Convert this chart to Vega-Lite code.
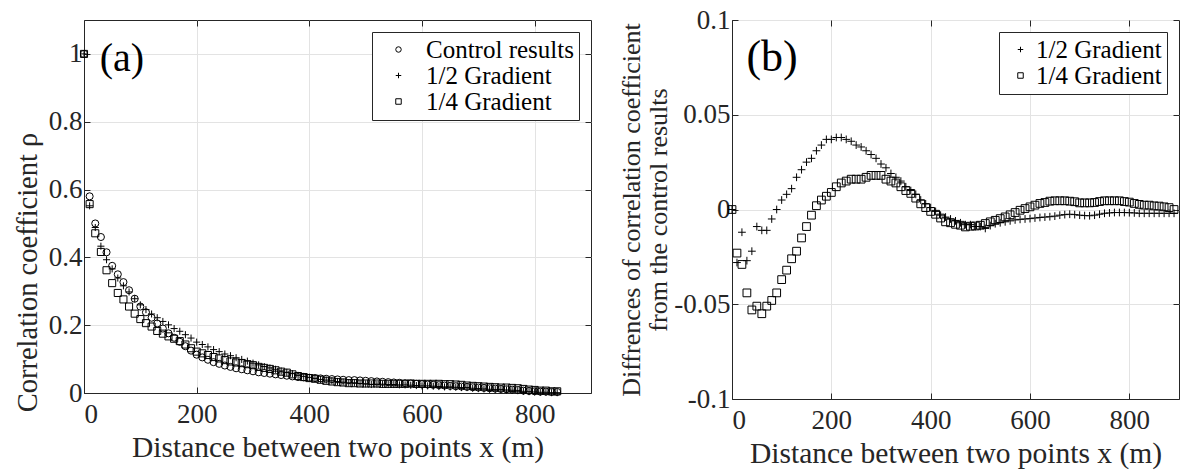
{
"$schema": "https://vega.github.io/schema/vega-lite/v6.json",
"padding": {"left": 12, "top": 5, "right": 0, "bottom": 5},
"spacing": 26,
"background": "white",
"config": {
  "view": {"stroke": "#262626", "strokeWidth": 1},
  "font": "Liberation Serif",
  "axis": {"labelFont": "Liberation Serif", "titleFont": "Liberation Serif", "labelFontSize": 27, "titleFontSize": 29.5, "titleFontWeight": "normal", "labelColor": "#262626", "titleColor": "#262626", "domainColor": "#262626", "tickColor": "#262626", "gridColor": "#e3e3e3", "tickSize": -6, "labelPadding": 8, "titlePadding": 6},
  "axisX": {"labelPadding": 14},
  "legend": {"title": null, "fillColor": "white", "strokeColor": "#262626", "padding": 5, "labelFont": "Liberation Serif", "labelFontSize": 25, "labelColor": "black", "symbolSize": 30, "symbolStrokeColor": "black", "symbolStrokeWidth": 1, "symbolOffset": 9, "labelOffset": 15, "rowPadding": -4, "cornerRadius": 0, "orient": "top-right", "offset": 12}
},
"datasets": {
"a": [
{"x":0,"g":"C","r":1},{"x":0,"g":"H","r":1},{"x":0,"g":"Q","r":1},
{"x":10,"g":"C","r":0.58},{"x":10,"g":"H","r":0.552},{"x":10,"g":"Q","r":0.557},
{"x":20,"g":"C","r":0.5},{"x":20,"g":"H","r":0.488},{"x":20,"g":"Q","r":0.471},
{"x":30,"g":"C","r":0.46},{"x":30,"g":"H","r":0.433},{"x":30,"g":"Q","r":0.416},
{"x":40,"g":"C","r":0.415},{"x":40,"g":"H","r":0.393},{"x":40,"g":"Q","r":0.362},
{"x":50,"g":"C","r":0.375},{"x":50,"g":"H","r":0.366},{"x":50,"g":"Q","r":0.324},
{"x":60,"g":"C","r":0.35},{"x":60,"g":"H","r":0.339},{"x":60,"g":"Q","r":0.295},
{"x":70,"g":"C","r":0.327},{"x":70,"g":"H","r":0.316},{"x":70,"g":"Q","r":0.276},
{"x":80,"g":"C","r":0.303},{"x":80,"g":"H","r":0.298},{"x":80,"g":"Q","r":0.255},
{"x":90,"g":"C","r":0.278},{"x":90,"g":"H","r":0.278},{"x":90,"g":"Q","r":0.234},
{"x":100,"g":"C","r":0.255},{"x":100,"g":"H","r":0.26},{"x":100,"g":"Q","r":0.218},
{"x":110,"g":"C","r":0.238},{"x":110,"g":"H","r":0.246},{"x":110,"g":"Q","r":0.206},
{"x":120,"g":"C","r":0.222},{"x":120,"g":"H","r":0.233},{"x":120,"g":"Q","r":0.196},
{"x":130,"g":"C","r":0.205},{"x":130,"g":"H","r":0.222},{"x":130,"g":"Q","r":0.183},
{"x":140,"g":"C","r":0.19},{"x":140,"g":"H","r":0.211},{"x":140,"g":"Q","r":0.175},
{"x":150,"g":"C","r":0.176},{"x":150,"g":"H","r":0.201},{"x":150,"g":"Q","r":0.167},
{"x":160,"g":"C","r":0.163},{"x":160,"g":"H","r":0.19},{"x":160,"g":"Q","r":0.16},
{"x":170,"g":"C","r":0.151},{"x":170,"g":"H","r":0.182},{"x":170,"g":"Q","r":0.153},
{"x":180,"g":"C","r":0.138},{"x":180,"g":"H","r":0.172},{"x":180,"g":"Q","r":0.143},
{"x":190,"g":"C","r":0.125},{"x":190,"g":"H","r":0.162},{"x":190,"g":"Q","r":0.132},
{"x":200,"g":"C","r":0.113},{"x":200,"g":"H","r":0.15},{"x":200,"g":"Q","r":0.122},
{"x":210,"g":"C","r":0.105},{"x":210,"g":"H","r":0.143},{"x":210,"g":"Q","r":0.117},
{"x":220,"g":"C","r":0.098},{"x":220,"g":"H","r":0.136},{"x":220,"g":"Q","r":0.112},
{"x":230,"g":"C","r":0.091},{"x":230,"g":"H","r":0.128},{"x":230,"g":"Q","r":0.106},
{"x":240,"g":"C","r":0.086},{"x":240,"g":"H","r":0.122},{"x":240,"g":"Q","r":0.102},
{"x":250,"g":"C","r":0.081},{"x":250,"g":"H","r":0.115},{"x":250,"g":"Q","r":0.097},
{"x":260,"g":"C","r":0.077},{"x":260,"g":"H","r":0.11},{"x":260,"g":"Q","r":0.093},
{"x":270,"g":"C","r":0.073},{"x":270,"g":"H","r":0.104},{"x":270,"g":"Q","r":0.09},
{"x":280,"g":"C","r":0.07},{"x":280,"g":"H","r":0.099},{"x":280,"g":"Q","r":0.088},
{"x":290,"g":"C","r":0.067},{"x":290,"g":"H","r":0.094},{"x":290,"g":"Q","r":0.085},
{"x":300,"g":"C","r":0.064},{"x":300,"g":"H","r":0.088},{"x":300,"g":"Q","r":0.082},
{"x":310,"g":"C","r":0.061},{"x":310,"g":"H","r":0.083},{"x":310,"g":"Q","r":0.077},
{"x":320,"g":"C","r":0.059},{"x":320,"g":"H","r":0.078},{"x":320,"g":"Q","r":0.074},
{"x":330,"g":"C","r":0.057},{"x":330,"g":"H","r":0.074},{"x":330,"g":"Q","r":0.071},
{"x":340,"g":"C","r":0.055},{"x":340,"g":"H","r":0.07},{"x":340,"g":"Q","r":0.067},
{"x":350,"g":"C","r":0.053},{"x":350,"g":"H","r":0.065},{"x":350,"g":"Q","r":0.063},
{"x":360,"g":"C","r":0.051},{"x":360,"g":"H","r":0.061},{"x":360,"g":"Q","r":0.06},
{"x":370,"g":"C","r":0.049},{"x":370,"g":"H","r":0.057},{"x":370,"g":"Q","r":0.055},
{"x":380,"g":"C","r":0.047},{"x":380,"g":"H","r":0.052},{"x":380,"g":"Q","r":0.05},
{"x":390,"g":"C","r":0.046},{"x":390,"g":"H","r":0.049},{"x":390,"g":"Q","r":0.047},
{"x":400,"g":"C","r":0.045},{"x":400,"g":"H","r":0.046},{"x":400,"g":"Q","r":0.044},
{"x":410,"g":"C","r":0.044},{"x":410,"g":"H","r":0.043},{"x":410,"g":"Q","r":0.042},
{"x":420,"g":"C","r":0.043},{"x":420,"g":"H","r":0.04},{"x":420,"g":"Q","r":0.039},
{"x":430,"g":"C","r":0.042},{"x":430,"g":"H","r":0.038},{"x":430,"g":"Q","r":0.036},
{"x":440,"g":"C","r":0.041},{"x":440,"g":"H","r":0.036},{"x":440,"g":"Q","r":0.034},
{"x":450,"g":"C","r":0.04},{"x":450,"g":"H","r":0.034},{"x":450,"g":"Q","r":0.032},
{"x":460,"g":"C","r":0.039},{"x":460,"g":"H","r":0.032},{"x":460,"g":"Q","r":0.031},
{"x":470,"g":"C","r":0.038},{"x":470,"g":"H","r":0.03},{"x":470,"g":"Q","r":0.029},
{"x":480,"g":"C","r":0.038},{"x":480,"g":"H","r":0.03},{"x":480,"g":"Q","r":0.029},
{"x":490,"g":"C","r":0.037},{"x":490,"g":"H","r":0.028},{"x":490,"g":"Q","r":0.028},
{"x":500,"g":"C","r":0.036},{"x":500,"g":"H","r":0.027},{"x":500,"g":"Q","r":0.028},
{"x":510,"g":"C","r":0.035},{"x":510,"g":"H","r":0.025},{"x":510,"g":"Q","r":0.028},
{"x":520,"g":"C","r":0.034},{"x":520,"g":"H","r":0.026},{"x":520,"g":"Q","r":0.028},
{"x":530,"g":"C","r":0.033},{"x":530,"g":"H","r":0.026},{"x":530,"g":"Q","r":0.027},
{"x":540,"g":"C","r":0.032},{"x":540,"g":"H","r":0.025},{"x":540,"g":"Q","r":0.027},
{"x":550,"g":"C","r":0.031},{"x":550,"g":"H","r":0.025},{"x":550,"g":"Q","r":0.027},
{"x":560,"g":"C","r":0.03},{"x":560,"g":"H","r":0.024},{"x":560,"g":"Q","r":0.027},
{"x":570,"g":"C","r":0.029},{"x":570,"g":"H","r":0.024},{"x":570,"g":"Q","r":0.027},
{"x":580,"g":"C","r":0.028},{"x":580,"g":"H","r":0.023},{"x":580,"g":"Q","r":0.028},
{"x":590,"g":"C","r":0.027},{"x":590,"g":"H","r":0.022},{"x":590,"g":"Q","r":0.027},
{"x":600,"g":"C","r":0.026},{"x":600,"g":"H","r":0.021},{"x":600,"g":"Q","r":0.027},
{"x":610,"g":"C","r":0.025},{"x":610,"g":"H","r":0.021},{"x":610,"g":"Q","r":0.027},
{"x":620,"g":"C","r":0.024},{"x":620,"g":"H","r":0.02},{"x":620,"g":"Q","r":0.027},
{"x":630,"g":"C","r":0.023},{"x":630,"g":"H","r":0.019},{"x":630,"g":"Q","r":0.027},
{"x":640,"g":"C","r":0.022},{"x":640,"g":"H","r":0.018},{"x":640,"g":"Q","r":0.026},
{"x":650,"g":"C","r":0.021},{"x":650,"g":"H","r":0.018},{"x":650,"g":"Q","r":0.026},
{"x":660,"g":"C","r":0.02},{"x":660,"g":"H","r":0.017},{"x":660,"g":"Q","r":0.025},
{"x":670,"g":"C","r":0.019},{"x":670,"g":"H","r":0.016},{"x":670,"g":"Q","r":0.024},
{"x":680,"g":"C","r":0.018},{"x":680,"g":"H","r":0.016},{"x":680,"g":"Q","r":0.022},
{"x":690,"g":"C","r":0.017},{"x":690,"g":"H","r":0.014},{"x":690,"g":"Q","r":0.021},
{"x":700,"g":"C","r":0.016},{"x":700,"g":"H","r":0.013},{"x":700,"g":"Q","r":0.02},
{"x":710,"g":"C","r":0.015},{"x":710,"g":"H","r":0.012},{"x":710,"g":"Q","r":0.019},
{"x":720,"g":"C","r":0.014},{"x":720,"g":"H","r":0.011},{"x":720,"g":"Q","r":0.018},
{"x":730,"g":"C","r":0.013},{"x":730,"g":"H","r":0.01},{"x":730,"g":"Q","r":0.017},
{"x":740,"g":"C","r":0.012},{"x":740,"g":"H","r":0.01},{"x":740,"g":"Q","r":0.016},
{"x":750,"g":"C","r":0.011},{"x":750,"g":"H","r":0.009},{"x":750,"g":"Q","r":0.016},
{"x":760,"g":"C","r":0.01},{"x":760,"g":"H","r":0.008},{"x":760,"g":"Q","r":0.015},
{"x":770,"g":"C","r":0.009},{"x":770,"g":"H","r":0.007},{"x":770,"g":"Q","r":0.014},
{"x":780,"g":"C","r":0.007},{"x":780,"g":"H","r":0.005},{"x":780,"g":"Q","r":0.012},
{"x":790,"g":"C","r":0.006},{"x":790,"g":"H","r":0.004},{"x":790,"g":"Q","r":0.01},
{"x":800,"g":"C","r":0.005},{"x":800,"g":"H","r":0.003},{"x":800,"g":"Q","r":0.009},
{"x":810,"g":"C","r":0.004},{"x":810,"g":"H","r":0.002},{"x":810,"g":"Q","r":0.007},
{"x":820,"g":"C","r":0.004},{"x":820,"g":"H","r":0.002},{"x":820,"g":"Q","r":0.007},
{"x":830,"g":"C","r":0.003},{"x":830,"g":"H","r":0.001},{"x":830,"g":"Q","r":0.005},
{"x":840,"g":"C","r":0.003},{"x":840,"g":"H","r":0.001},{"x":840,"g":"Q","r":0.005}
],
"b": [
{"x":0,"g":"H","d":0},{"x":0,"g":"Q","d":0},
{"x":10,"g":"H","d":-0.028},{"x":10,"g":"Q","d":-0.023},
{"x":20,"g":"H","d":-0.012},{"x":20,"g":"Q","d":-0.029},
{"x":30,"g":"H","d":-0.027},{"x":30,"g":"Q","d":-0.044},
{"x":40,"g":"H","d":-0.022},{"x":40,"g":"Q","d":-0.053},
{"x":50,"g":"H","d":-0.009},{"x":50,"g":"Q","d":-0.051},
{"x":60,"g":"H","d":-0.011},{"x":60,"g":"Q","d":-0.055},
{"x":70,"g":"H","d":-0.011},{"x":70,"g":"Q","d":-0.051},
{"x":80,"g":"H","d":-0.005},{"x":80,"g":"Q","d":-0.048},
{"x":90,"g":"H","d":0.0},{"x":90,"g":"Q","d":-0.044},
{"x":100,"g":"H","d":0.005},{"x":100,"g":"Q","d":-0.037},
{"x":110,"g":"H","d":0.008},{"x":110,"g":"Q","d":-0.032},
{"x":120,"g":"H","d":0.011},{"x":120,"g":"Q","d":-0.026},
{"x":130,"g":"H","d":0.017},{"x":130,"g":"Q","d":-0.022},
{"x":140,"g":"H","d":0.021},{"x":140,"g":"Q","d":-0.015},
{"x":150,"g":"H","d":0.025},{"x":150,"g":"Q","d":-0.009},
{"x":160,"g":"H","d":0.027},{"x":160,"g":"Q","d":-0.003},
{"x":170,"g":"H","d":0.031},{"x":170,"g":"Q","d":0.002},
{"x":180,"g":"H","d":0.034},{"x":180,"g":"Q","d":0.005},
{"x":190,"g":"H","d":0.037},{"x":190,"g":"Q","d":0.007},
{"x":200,"g":"H","d":0.037},{"x":200,"g":"Q","d":0.009},
{"x":210,"g":"H","d":0.038},{"x":210,"g":"Q","d":0.012},
{"x":220,"g":"H","d":0.038},{"x":220,"g":"Q","d":0.014},
{"x":230,"g":"H","d":0.037},{"x":230,"g":"Q","d":0.015},
{"x":240,"g":"H","d":0.036},{"x":240,"g":"Q","d":0.016},
{"x":250,"g":"H","d":0.034},{"x":250,"g":"Q","d":0.016},
{"x":260,"g":"H","d":0.033},{"x":260,"g":"Q","d":0.016},
{"x":270,"g":"H","d":0.031},{"x":270,"g":"Q","d":0.017},
{"x":280,"g":"H","d":0.029},{"x":280,"g":"Q","d":0.018},
{"x":290,"g":"H","d":0.027},{"x":290,"g":"Q","d":0.018},
{"x":300,"g":"H","d":0.024},{"x":300,"g":"Q","d":0.018},
{"x":310,"g":"H","d":0.022},{"x":310,"g":"Q","d":0.016},
{"x":320,"g":"H","d":0.019},{"x":320,"g":"Q","d":0.015},
{"x":330,"g":"H","d":0.017},{"x":330,"g":"Q","d":0.014},
{"x":340,"g":"H","d":0.015},{"x":340,"g":"Q","d":0.012},
{"x":350,"g":"H","d":0.012},{"x":350,"g":"Q","d":0.01},
{"x":360,"g":"H","d":0.01},{"x":360,"g":"Q","d":0.0085},
{"x":370,"g":"H","d":0.008},{"x":370,"g":"Q","d":0.006},
{"x":380,"g":"H","d":0.005},{"x":380,"g":"Q","d":0.003},
{"x":390,"g":"H","d":0.003},{"x":390,"g":"Q","d":0.001},
{"x":400,"g":"H","d":0.001},{"x":400,"g":"Q","d":-0.001},
{"x":410,"g":"H","d":-0.001},{"x":410,"g":"Q","d":-0.0025},
{"x":420,"g":"H","d":-0.003},{"x":420,"g":"Q","d":-0.0045},
{"x":430,"g":"H","d":-0.004},{"x":430,"g":"Q","d":-0.0065},
{"x":440,"g":"H","d":-0.005},{"x":440,"g":"Q","d":-0.007},
{"x":450,"g":"H","d":-0.006},{"x":450,"g":"Q","d":-0.0078},
{"x":460,"g":"H","d":-0.007},{"x":460,"g":"Q","d":-0.0083},
{"x":470,"g":"H","d":-0.008},{"x":470,"g":"Q","d":-0.0092},
{"x":480,"g":"H","d":-0.008},{"x":480,"g":"Q","d":-0.0088},
{"x":490,"g":"H","d":-0.009},{"x":490,"g":"Q","d":-0.0087},
{"x":500,"g":"H","d":-0.009},{"x":500,"g":"Q","d":-0.0083},
{"x":510,"g":"H","d":-0.01},{"x":510,"g":"Q","d":-0.0074},
{"x":520,"g":"H","d":-0.0085},{"x":520,"g":"Q","d":-0.0065},
{"x":530,"g":"H","d":-0.0075},{"x":530,"g":"Q","d":-0.0057},
{"x":540,"g":"H","d":-0.007},{"x":540,"g":"Q","d":-0.0048},
{"x":550,"g":"H","d":-0.0065},{"x":550,"g":"Q","d":-0.0039},
{"x":560,"g":"H","d":-0.006},{"x":560,"g":"Q","d":-0.0028},
{"x":570,"g":"H","d":-0.0055},{"x":570,"g":"Q","d":-0.0016},
{"x":580,"g":"H","d":-0.0052},{"x":580,"g":"Q","d":-0.0004},
{"x":590,"g":"H","d":-0.005},{"x":590,"g":"Q","d":0.0005},
{"x":600,"g":"H","d":-0.0048},{"x":600,"g":"Q","d":0.0014},
{"x":610,"g":"H","d":-0.0045},{"x":610,"g":"Q","d":0.0023},
{"x":620,"g":"H","d":-0.0042},{"x":620,"g":"Q","d":0.0032},
{"x":630,"g":"H","d":-0.004},{"x":630,"g":"Q","d":0.0037},
{"x":640,"g":"H","d":-0.0038},{"x":640,"g":"Q","d":0.0044},
{"x":650,"g":"H","d":-0.0035},{"x":650,"g":"Q","d":0.0046},
{"x":660,"g":"H","d":-0.003},{"x":660,"g":"Q","d":0.0046},
{"x":670,"g":"H","d":-0.0027},{"x":670,"g":"Q","d":0.0046},
{"x":680,"g":"H","d":-0.0025},{"x":680,"g":"Q","d":0.0044},
{"x":690,"g":"H","d":-0.0027},{"x":690,"g":"Q","d":0.0041},
{"x":700,"g":"H","d":-0.003},{"x":700,"g":"Q","d":0.0035},
{"x":710,"g":"H","d":-0.0032},{"x":710,"g":"Q","d":0.0035},
{"x":720,"g":"H","d":-0.0033},{"x":720,"g":"Q","d":0.0035},
{"x":730,"g":"H","d":-0.003},{"x":730,"g":"Q","d":0.0037},
{"x":740,"g":"H","d":-0.0025},{"x":740,"g":"Q","d":0.0042},
{"x":750,"g":"H","d":-0.002},{"x":750,"g":"Q","d":0.0046},
{"x":760,"g":"H","d":-0.0018},{"x":760,"g":"Q","d":0.0046},
{"x":770,"g":"H","d":-0.0016},{"x":770,"g":"Q","d":0.0046},
{"x":780,"g":"H","d":-0.0016},{"x":780,"g":"Q","d":0.0046},
{"x":790,"g":"H","d":-0.0016},{"x":790,"g":"Q","d":0.0042},
{"x":800,"g":"H","d":-0.0017},{"x":800,"g":"Q","d":0.0039},
{"x":810,"g":"H","d":-0.0018},{"x":810,"g":"Q","d":0.0032},
{"x":820,"g":"H","d":-0.002},{"x":820,"g":"Q","d":0.0027},
{"x":830,"g":"H","d":-0.002},{"x":830,"g":"Q","d":0.0023},
{"x":840,"g":"H","d":-0.002},{"x":840,"g":"Q","d":0.0023},
{"x":850,"g":"H","d":-0.002},{"x":850,"g":"Q","d":0.0019},
{"x":860,"g":"H","d":-0.002},{"x":860,"g":"Q","d":0.0018},
{"x":870,"g":"H","d":-0.002},{"x":870,"g":"Q","d":0.0014},
{"x":880,"g":"H","d":-0.002},{"x":880,"g":"Q","d":0.001},
{"x":890,"g":"H","d":-0.002},{"x":890,"g":"Q","d":0.0}
]
},
"hconcat": [
{
  "width": 507, "height": 373,
  "layer": [
    {
      "data": {"name": "a"},
      "mark": {"type": "point", "filled": false, "stroke": "black", "strokeWidth": 1, "size": 50, "opacity": 1},
      "encoding": {
        "x": {"field": "x", "type": "quantitative", "scale": {"domain": [0, 900], "nice": false, "zero": false},
              "axis": {"values": [0, 200, 400, 600, 800], "title": "Distance between two points x (m)", "grid": true}},
        "y": {"field": "r", "type": "quantitative", "scale": {"domain": [0, 1.1], "nice": false},
              "axis": {"values": [0, 0.2, 0.4, 0.6, 0.8, 1], "format": "~g", "title": "Correlation coefficient ρ", "titleFontSize": 28.5, "titleY": 252, "grid": true}},
        "shape": {"field": "g", "type": "nominal",
                  "scale": {"domain": ["C", "H", "Q"], "range": ["circle", "M-1,0L1,0M0,-1L0,1", "square"]},
                  "legend": {"labelExpr": "datum.label == 'C' ? 'Control results' : (datum.label == 'H' ? '1/2 Gradient' : '1/4 Gradient')"}}
      }
    },
    {
      "data": {"values": [{"x": 28, "y": 0.95, "t": "(a)"}]},
      "mark": {"type": "text", "fontSize": 40, "font": "Liberation Serif", "align": "left", "baseline": "alphabetic", "color": "black"},
      "encoding": {
        "x": {"field": "x", "type": "quantitative", "scale": {"domain": [0, 900], "nice": false, "zero": false},
              "axis": {"orient": "top", "values": [0, 200, 400, 600, 800], "labels": false, "title": null, "grid": false, "domain": false, "minExtent": 0, "maxExtent": 0}},
        "y": {"field": "y", "type": "quantitative", "scale": {"domain": [0, 1.1], "nice": false},
              "axis": {"orient": "right", "values": [0, 0.2, 0.4, 0.6, 0.8, 1], "labels": false, "title": null, "grid": false, "domain": false, "minExtent": 0, "maxExtent": 0}},
        "text": {"field": "t"}
      }
    }
  ],
  "resolve": {"scale": {"x": "independent", "y": "independent"}}
},
{
  "width": 447, "height": 379,
  "layer": [
    {
      "data": {"name": "b"},
      "mark": {"type": "point", "filled": false, "stroke": "black", "strokeWidth": 1, "size": 60, "opacity": 1},
      "encoding": {
        "x": {"field": "x", "type": "quantitative", "scale": {"domain": [0, 900], "nice": false, "zero": false},
              "axis": {"values": [0, 200, 400, 600, 800], "title": "Distance between two points x (m)", "grid": true}},
        "y": {"field": "d", "type": "quantitative", "scale": {"domain": [-0.1, 0.1], "nice": false, "zero": false},
              "axis": {"values": [-0.1, -0.05, 0, 0.05, 0.1], "format": "~g", "labelExpr": "replace(datum.label, '−', '-')",
                       "title": ["Diffrences of correlation coefficient", "from the control results"], "titleFontSize": 26, "titleLineHeight": 27, "titlePadding": 2, "grid": true}},
        "shape": {"field": "g", "type": "nominal",
                  "scale": {"domain": ["H", "Q"], "range": ["M-1,0L1,0M0,-1L0,1", "square"]},
                  "legend": {"labelExpr": "datum.label == 'H' ? '1/2 Gradient' : '1/4 Gradient'", "labelFontSize": 25, "symbolOffset": 4, "labelOffset": 3, "rowPadding": -4}}
      }
    },
    {
      "data": {"values": [{"x": 29, "y": 0.073, "t": "(b)"}]},
      "mark": {"type": "text", "fontSize": 44, "font": "Liberation Serif", "align": "left", "baseline": "alphabetic", "color": "black"},
      "encoding": {
        "x": {"field": "x", "type": "quantitative", "scale": {"domain": [0, 900], "nice": false, "zero": false},
              "axis": {"orient": "top", "values": [0, 200, 400, 600, 800], "labels": false, "title": null, "grid": false, "domain": false, "minExtent": 0, "maxExtent": 0}},
        "y": {"field": "y", "type": "quantitative", "scale": {"domain": [-0.1, 0.1], "nice": false, "zero": false},
              "axis": {"orient": "right", "values": [-0.1, -0.05, 0, 0.05, 0.1], "labels": false, "title": null, "grid": false, "domain": false, "minExtent": 0, "maxExtent": 0}},
        "text": {"field": "t"}
      }
    }
  ],
  "resolve": {"scale": {"x": "independent", "y": "independent"}}
}
],
"resolve": {"scale": {"shape": "independent"}, "legend": {"shape": "independent"}}
}
